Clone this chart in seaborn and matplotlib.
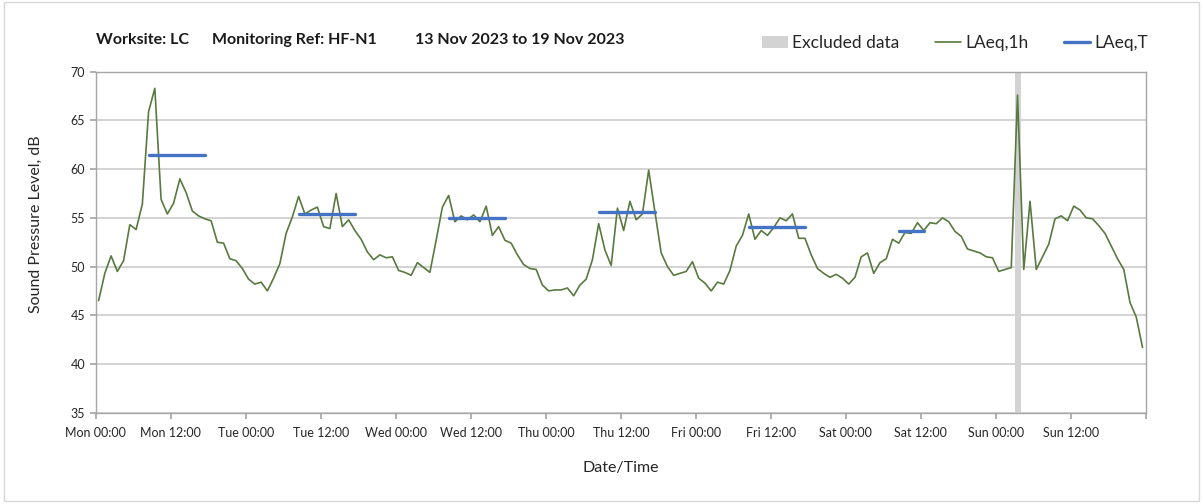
import numpy as np
import pandas as pd
import matplotlib
matplotlib.use("Agg")
import matplotlib.pyplot as plt
import seaborn as sns
from matplotlib.patches import Patch, Rectangle
from matplotlib.lines import Line2D

# hourly LAeq,1h values (dB), one list per day
mon = [46.5, 49.3, 51.1, 49.5, 50.6, 54.3, 53.8, 56.4, 65.9, 68.3, 56.9, 55.4,
       56.5, 59.0, 57.6, 55.7, 55.2, 54.9, 54.7, 52.5, 52.4, 50.8, 50.6, 49.8]
tue = [48.7, 48.2, 48.4, 47.5, 48.8, 50.3, 53.4, 55.1, 57.2, 55.4, 55.8, 56.1,
       54.1, 53.9, 57.5, 54.1, 54.8, 53.7, 52.8, 51.5, 50.7, 51.2, 50.9, 51.0]
wed = [49.6, 49.4, 49.1, 50.4, 49.9, 49.4, 52.7, 56.1, 57.3, 54.6, 55.2, 54.8,
       55.3, 54.6, 56.2, 53.2, 54.1, 52.7, 52.4, 51.2, 50.2, 49.8, 49.7, 48.1]
thu = [47.5, 47.6, 47.6, 47.8, 47.0, 48.1, 48.7, 50.7, 54.4, 51.7, 50.1, 56.0,
       53.7, 56.7, 54.8, 55.4, 59.9, 55.6, 51.4, 50.0, 49.1, 49.3, 49.5, 50.5]
fri = [48.8, 48.3, 47.5, 48.4, 48.2, 49.6, 52.1, 53.2, 55.4, 52.8, 53.7, 53.2,
       54.0, 55.0, 54.7, 55.4, 52.9, 52.9, 51.2, 49.8, 49.3, 48.9, 49.2, 48.8]
sat = [48.2, 48.9, 51.0, 51.4, 49.3, 50.4, 50.8, 52.8, 52.4, 53.5, 53.4, 54.5,
       53.7, 54.5, 54.4, 55.0, 54.6, 53.6, 53.1, 51.8, 51.6, 51.4, 51.0, 50.9]
sun = [49.5, 49.7, 49.9, 67.6, 49.7, 56.7, 49.7, 51.0, 52.3, 54.9, 55.2, 54.7,
       56.2, 55.8, 55.0, 54.9, 54.2, 53.4, 52.1, 50.8, 49.7, 46.3, 44.8, 41.7]

# LAeq,T periods: start hour, end hour (from Mon 00:00), level
period_start = [8, 32, 56, 80, 104, 128]
period_end = [17, 41, 65, 89, 113, 132]
period_level = [61.5, 55.4, 55.0, 55.6, 54.1, 53.6]

# excluded data window (hours from Mon 00:00)
excluded = (147.0, 148.0)

tick_labels = ["Mon 00:00", "Mon 12:00", "Tue 00:00", "Tue 12:00", "Wed 00:00",
               "Wed 12:00", "Thu 00:00", "Thu 12:00", "Fri 00:00", "Fri 12:00",
               "Sat 00:00", "Sat 12:00", "Sun 00:00", "Sun 12:00", ""]

GREEN = "#58793f"
BLUE = "#4472c4"
GREY = "#d3d3d3"

sns.set_theme(style="white")
plt.rcParams["font.family"] = ["Lato", "DejaVu Sans"]

levels = mon + tue + wed + thu + fri + sat + sun
df = pd.DataFrame({"hour": np.arange(len(levels)) + 0.45, "laeq": levels})

seg = pd.DataFrame({
    "hour": [h + 0.45 for pair in zip(period_start, period_end) for h in pair],
    "laeq": [v for v in period_level for _ in range(2)],
    "period": [i for i in range(len(period_level)) for _ in range(2)],
})

fig = plt.figure(figsize=(12.03, 5.04), dpi=100)
ax = fig.add_axes([0.0796, 0.1812, 0.8730, 0.6765])

ax.axvspan(*excluded, color=GREY, lw=0, zorder=1)
sns.lineplot(data=df, x="hour", y="laeq", ax=ax, color=GREEN, lw=1.2, zorder=3)
sns.lineplot(data=seg, x="hour", y="laeq", units="period", estimator=None,
             ax=ax, color=BLUE, lw=2.4, zorder=4)

ax.set_xlim(0, 168)
ax.set_ylim(35, 70)
ax.set_yticks(range(35, 71, 5))
ax.set_xticks(range(0, 169, 12))
ax.set_xticklabels(tick_labels)
ax.set_xticks(range(0, 169, 24), minor=True)
ax.grid(axis="y", color="#c8c8c8", lw=1.1)
ax.grid(axis="x", which="minor", color="#dcdcdc", lw=1.0)
ax.set_axisbelow(True)
for s in ax.spines.values():
    s.set_color("#a6a6a6")
    s.set_linewidth(1.0)
ax.tick_params(axis="both", which="major", direction="out", length=4,
               color="#a6a6a6", labelsize=9, labelcolor="#262626", bottom=True, left=True)
ax.tick_params(axis="x", which="minor", length=0)
ax.tick_params(axis="x", pad=6)

ax.set_xlabel("Date/Time", fontsize=11.5, color="#262626", labelpad=16)
ax.set_ylabel("Sound Pressure Level, dB", fontsize=11.5, color="#262626")
ax.yaxis.set_label_coords(-0.050, 0.554)

# title pieces
title_y = 1 - 40 / 504
fig.text(96 / 1203, title_y, "Worksite: LC", fontsize=11.5, fontweight="bold",
         va="center", color="#1a1a1a")
fig.text(212 / 1203, title_y, "Monitoring Ref: HF-N1", fontsize=11.5,
         fontweight="bold", va="center", color="#1a1a1a")
fig.text(415 / 1203, title_y, "13 Nov 2023 to 19 Nov 2023", fontsize=11.5,
         fontweight="bold", va="center", color="#1a1a1a")

handles = [Patch(facecolor=GREY, edgecolor="none"),
           Line2D([], [], color=GREEN, lw=1.2),
           Line2D([], [], color=BLUE, lw=2.4)]
fig.legend(handles, ["Excluded data", "LAeq,1h", "LAeq,T"], ncol=3,
           loc="center right", bbox_to_anchor=(1157 / 1203, 1 - 43 / 504),
           frameon=False, fontsize=12.5, handlelength=1.5, columnspacing=2.05,
           handletextpad=0.25, labelcolor="#262626", borderpad=0)

fig.patches.append(Rectangle((0.003, 0.006), 0.994, 0.99, transform=fig.transFigure,
                             fill=False, edgecolor="#d9d9d9", lw=1.0))

fig.savefig("out.png", dpi=100, facecolor="white")
